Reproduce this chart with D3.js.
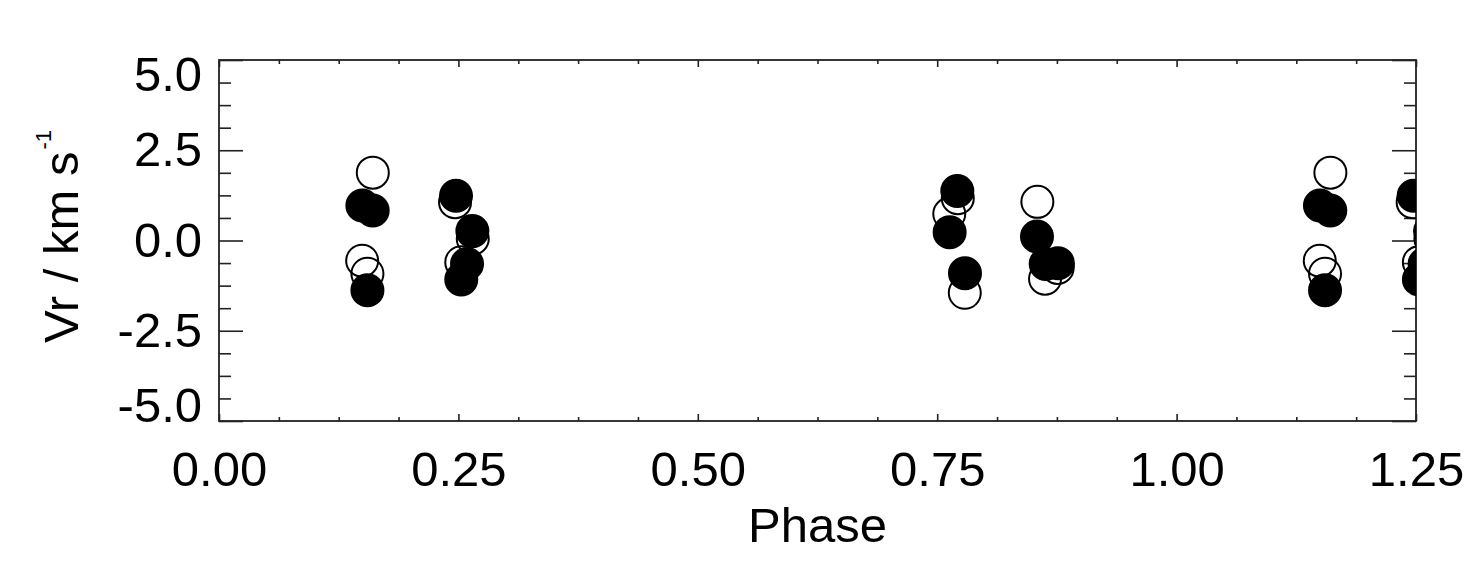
<!DOCTYPE html>
<html>
<head>
<meta charset="utf-8">
<script src="https://cdn.jsdelivr.net/npm/d3@7"></script>
<style>
  html, body { margin: 0; padding: 0; background: #fff; }
  svg { display: block; }
  text { font-family: "Liberation Sans", Arial, Helvetica, sans-serif; fill: #000; }
</style>
</head>
<body>
<svg id="chart" width="1478" height="577"></svg>
<script>
// ---- data (phase, radial velocity km/s) ----
// open circles
const openPhase = [0.1606, 0.1495, 0.1550, 0.2465, 0.2650, 0.2530,
                   0.7715, 0.7626, 0.7788, 0.8546, 0.8626, 0.8758,
                   1.1606, 1.1495, 1.1550, 1.2465, 1.2650, 1.2530];
const openVr    = [1.88, -0.56, -0.92, 1.06, 0.05, -0.60,
                   1.17, 0.74, -1.45, 1.07, -1.06, -0.76,
                   1.88, -0.56, -0.92, 1.06, 0.05, -0.60];
// filled circles
const filledPhase = [0.1497, 0.1605, 0.1550, 0.2475, 0.2646, 0.2590, 0.2530,
                     0.7710, 0.7630, 0.7790, 0.8542, 0.8633, 0.8761,
                     1.1497, 1.1605, 1.1550, 1.2475, 1.2646, 1.2590, 1.2530];
const filledVr    = [0.97, 0.83, -1.38, 1.24, 0.26, -0.65, -1.08,
                     1.37, 0.23, -0.91, 0.11, -0.65, -0.63,
                     0.97, 0.83, -1.38, 1.24, 0.26, -0.65, -1.08];

const xTickValues = [0.00, 0.25, 0.50, 0.75, 1.00, 1.25];
const xTickLabels = ["0.00", "0.25", "0.50", "0.75", "1.00", "1.25"];
const yTickValues = [-5.0, -2.5, 0.0, 2.5, 5.0];
const yTickLabels = ["-5.0", "-2.5", "0.0", "2.5", "5.0"];
const xMinorStep = 0.0625;
const yMinorStep = 0.625;
const xTitle = "Phase";
const yTitleMain = "Vr / km s";
const yTitleSup = "-1";

// ---- layout ----
const L = 219, R = 1416, T = 60, B = 421;
const svg = d3.select("#chart");
const x = d3.scaleLinear().domain([0, 1.25]).range([L, R]);
const y = d3.scaleLinear().domain([-5, 5]).range([B, T]);

const axisColor = "#222";
const FS = 49;

// minor tick values
const xMinor = d3.range(0, 1.25 + 1e-9, xMinorStep).filter(v => Math.abs(v / 0.25 - Math.round(v / 0.25)) > 1e-6);
const yMinor = d3.range(-5, 5 + 1e-9, yMinorStep).filter(v => Math.abs(v / 2.5 - Math.round(v / 2.5)) > 1e-6);

function styleAxis(g) {
  g.select(".domain").remove();
  g.selectAll(".tick line").attr("stroke", axisColor).attr("stroke-width", 1.6);
}

// bottom axis: major with labels
svg.append("g").attr("transform", `translate(0,${B})`)
  .call(d3.axisBottom(x).tickValues(xTickValues).tickFormat((d, i) => xTickLabels[i])
        .tickSize(-7).tickSizeOuter(0).tickPadding(30))
  .call(styleAxis)
  .call(g => g.selectAll("text").attr("font-size", FS));
svg.append("g").attr("transform", `translate(0,${B})`)
  .call(d3.axisBottom(x).tickValues(xMinor).tickFormat("").tickSize(-4).tickSizeOuter(0))
  .call(styleAxis);
// top axis
svg.append("g").attr("transform", `translate(0,${T})`)
  .call(d3.axisTop(x).tickValues(xTickValues).tickFormat("").tickSize(-7).tickSizeOuter(0))
  .call(styleAxis);
svg.append("g").attr("transform", `translate(0,${T})`)
  .call(d3.axisTop(x).tickValues(xMinor).tickFormat("").tickSize(-4).tickSizeOuter(0))
  .call(styleAxis);
// left axis
svg.append("g").attr("transform", `translate(${L},0)`)
  .call(d3.axisLeft(y).tickValues(yTickValues).tickFormat((d, i) => yTickLabels[i])
        .tickSize(-24).tickSizeOuter(0).tickPadding(17))
  .call(styleAxis)
  .call(g => g.selectAll("text").attr("font-size", FS)
    .attr("dy", d => d === 5 ? "0.62em" : d === -5 ? "0.02em" : "0.32em"));
svg.append("g").attr("transform", `translate(${L},0)`)
  .call(d3.axisLeft(y).tickValues(yMinor).tickFormat("").tickSize(-12).tickSizeOuter(0))
  .call(styleAxis);
// right axis
svg.append("g").attr("transform", `translate(${R},0)`)
  .call(d3.axisRight(y).tickValues(yTickValues).tickFormat("").tickSize(-24).tickSizeOuter(0))
  .call(styleAxis);
svg.append("g").attr("transform", `translate(${R},0)`)
  .call(d3.axisRight(y).tickValues(yMinor).tickFormat("").tickSize(-12).tickSizeOuter(0))
  .call(styleAxis);

// frame
svg.append("rect")
  .attr("x", L).attr("y", T).attr("width", R - L).attr("height", B - T)
  .attr("fill", "none").attr("stroke", axisColor).attr("stroke-width", 1.8);

// clip
svg.append("clipPath").attr("id", "plotclip")
  .append("rect").attr("x", L).attr("y", T).attr("width", R - L).attr("height", B - T);

const pts = svg.append("g").attr("clip-path", "url(#plotclip)");
const r = 16;
pts.selectAll("circle.open")
  .data(d3.range(openPhase.length))
  .join("circle").attr("class", "open")
  .attr("cx", i => x(openPhase[i])).attr("cy", i => y(openVr[i])).attr("r", r)
  .attr("fill", "none").attr("stroke", "#000").attr("stroke-width", 2);
pts.selectAll("circle.filled")
  .data(d3.range(filledPhase.length))
  .join("circle").attr("class", "filled")
  .attr("cx", i => x(filledPhase[i])).attr("cy", i => y(filledVr[i])).attr("r", r)
  .attr("fill", "#000").attr("stroke", "#000").attr("stroke-width", 2);

// x title
svg.append("text")
  .attr("x", (L + R) / 2).attr("y", 542)
  .attr("text-anchor", "middle").attr("font-size", FS)
  .text(xTitle);

// y title
const yt = svg.append("text")
  .attr("transform", "rotate(-90)")
  .attr("x", -343).attr("y", 78)
  .attr("text-anchor", "start").attr("font-size", FS);
yt.append("tspan").text(yTitleMain);
yt.append("tspan").attr("font-size", 22).attr("dy", -27).attr("dx", 2).text(yTitleSup);
</script>
</body>
</html>
